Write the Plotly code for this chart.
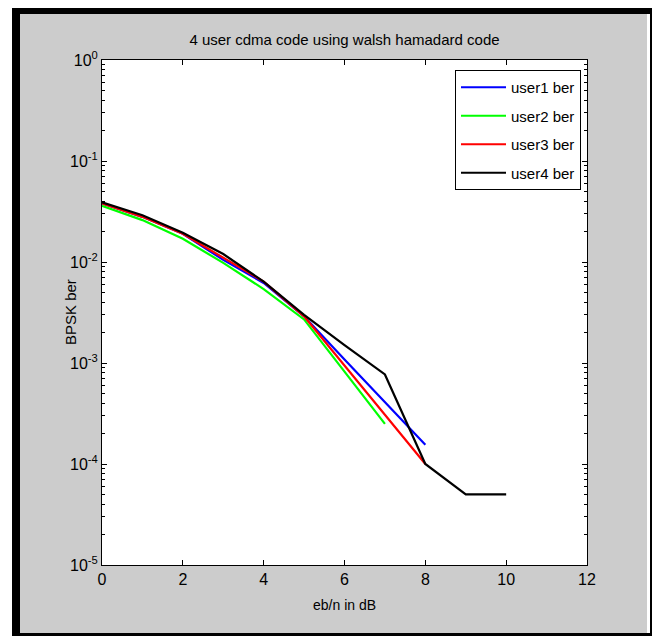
import plotly.graph_objects as go

# ---- data ----
snr_db = [0, 1, 2, 3, 4, 5, 6, 7, 8, 9, 10]
user1_x = [0, 1, 2, 3, 4, 5, 6, 7, 8]
user1_ber = [0.038, 0.028, 0.019, 0.0105, 0.0062, 0.0029, 0.00108, 0.00041, 0.000155]
user2_x = [0, 1, 2, 3, 4, 5, 6, 7]
user2_ber = [0.036, 0.026, 0.017, 0.0098, 0.0054, 0.0027, 0.00082, 0.00025]
user3_x = [0, 1, 2, 3, 4, 5, 6, 7, 8]
user3_ber = [0.038, 0.028, 0.019, 0.011, 0.0064, 0.0029, 0.00095, 0.00031, 0.0001]
user4_x = [0, 1, 2, 3, 4, 5, 6, 7, 8, 9, 10]
user4_ber = [0.039, 0.029, 0.0195, 0.012, 0.0064, 0.003, 0.0015, 0.00077, 0.0001, 0.00005, 0.00005]

series = [
    ("user1 ber", user1_x, user1_ber, "#0000ff"),
    ("user2 ber", user2_x, user2_ber, "#00ff00"),
    ("user3 ber", user3_x, user3_ber, "#ff0000"),
    ("user4 ber", user4_x, user4_ber, "#000000"),
]

x_ticks = [0, 2, 4, 6, 8, 10, 12]
y_exps = [-5, -4, -3, -2, -1, 0]

OFF = 8  # page body margin offset
W, H = 660 - OFF, 636 - OFF
L, R, T, B = 102 - OFF, 587 - OFF, 60 - OFF, 565 - OFF  # plot area in figure pixels


def px(x):
    # x given in screen (reference) pixels
    return (x - OFF - L) / (R - L)


def py(y):
    return (B - (y - OFF)) / (B - T)


fig = go.Figure()
for i, (name, xs, ys, col) in enumerate(series):
    fig.add_trace(go.Scatter(x=xs, y=ys, mode="lines", name=name,
                             legendgroup=f"g{i}",
                             line=dict(color=col, width=2.2)))

minor_vals = [m * 10.0 ** e for e in range(-5, 0) for m in range(2, 10)]

font = "Liberation Sans, Arial, sans-serif"

shapes = [
    dict(type="rect", xref="paper", yref="paper", layer="below",
         x0=px(12), x1=px(668), y0=py(6), y1=py(644),
         fillcolor="black", line=dict(width=0)),
    dict(type="rect", xref="paper", yref="paper", layer="below",
         x0=px(20), x1=px(647), y0=py(14), y1=py(633),
         fillcolor="#cccccc", line=dict(width=0)),
    dict(type="rect", xref="paper", yref="paper", layer="below",
         x0=px(647), x1=px(650), y0=py(14), y1=py(633),
         fillcolor="white", line=dict(width=0)),
    dict(type="rect", xref="paper", yref="paper", layer="below",
         x0=0, x1=1, y0=0, y1=1,
         fillcolor="white", line=dict(width=0)),
]

fig.update_layout(
    width=W, height=H,
    margin=dict(l=L, r=W - R, t=T, b=H - B),
    paper_bgcolor="white",
    plot_bgcolor="rgba(0,0,0,0)",
    font=dict(family=font, size=14, color="black"),
    shapes=shapes,
    title=dict(text="4 user cdma code using walsh hamadard code",
               x=px(344.5), xref="paper", xanchor="center",
               y=1 - (40 - OFF) / H, yref="container", yanchor="middle",
               font=dict(family=font, size=15, color="black")),
    xaxis=dict(range=[0, 12], tickvals=x_ticks,
               ticks="inside", ticklen=5, tickcolor="black",
               showline=True, linecolor="black", linewidth=1, mirror="ticks",
               showgrid=False, zeroline=False,
               tickfont=dict(family=font, size=16)),
    yaxis=dict(type="log", range=[-5, 0],
               tickvals=[10.0 ** e for e in y_exps],
               ticktext=[f"10<sup>{e}</sup>" for e in y_exps],
               ticks="inside", ticklen=5, tickcolor="black",
               showline=True, linecolor="black", linewidth=1, mirror="ticks",
               showgrid=False, zeroline=False,
               tickfont=dict(family=font, size=16),
               minor=dict(tickvals=minor_vals, ticks="inside", ticklen=3,
                          tickcolor="black", showgrid=False)),
    legend=dict(x=px(455), y=py(70), xanchor="left", yanchor="top",
                bgcolor="white", bordercolor="black", borderwidth=1,
                tracegroupgap=6, itemwidth=45,
                font=dict(family=font, size=15, color="black")),
    annotations=[
        dict(text="eb/n in dB", xref="paper", yref="paper",
             x=px(344.5), y=py(605), showarrow=False,
             xanchor="center", yanchor="middle",
             font=dict(family=font, size=14)),
        dict(text="BPSK ber", xref="paper", yref="paper",
             x=px(70), y=py(312), showarrow=False, textangle=-90,
             xanchor="center", yanchor="middle",
             font=dict(family=font, size=15)),
    ],
)

fig.write_html("out.html")
